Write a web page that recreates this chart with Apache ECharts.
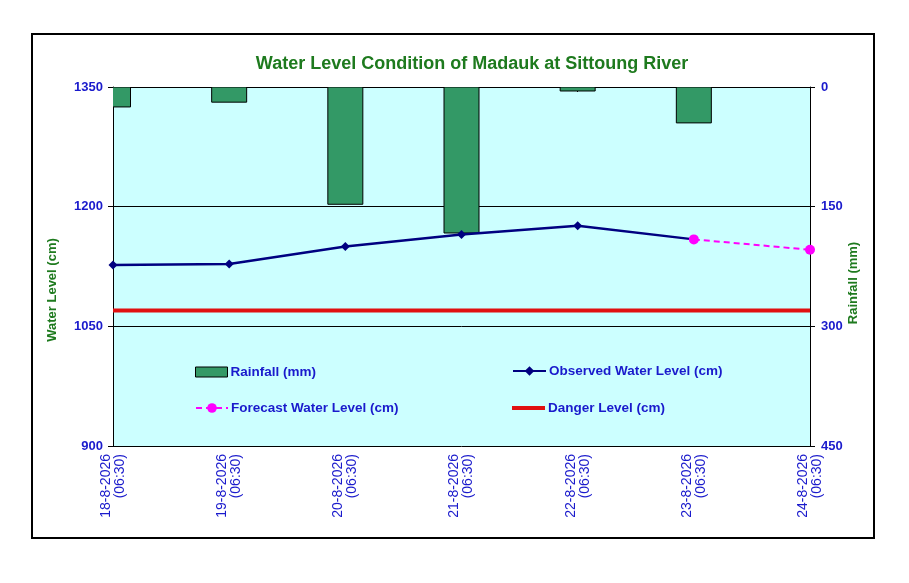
<!DOCTYPE html>
<html>
<head>
<meta charset="utf-8">
<script src="https://cdn.jsdelivr.net/npm/echarts@6/dist/echarts.min.js"></script>
<style>
  html, body { margin: 0; padding: 0; background: #fff; }
  #main { width: 909px; height: 583px; }
</style>
</head>
<body>
<div id="main"></div>
<script>
// chart data
var dates = ['18-8-2026\n(06:30)', '19-8-2026\n(06:30)', '20-8-2026\n(06:30)', '21-8-2026\n(06:30)',
             '22-8-2026\n(06:30)', '23-8-2026\n(06:30)', '24-8-2026\n(06:30)'];
var rainfall = [25, 19, 147, 183, 5, 45, 0];
var observed = [1127, 1128, 1150, 1165, 1176, 1159, '-'];
var forecast = ['-', '-', '-', '-', '-', 1159, 1146];
var dangerLevel = 1070;
var danger = dates.map(function () { return dangerLevel; });
var levelTicks = [900, 1050, 1200, 1350];
var rainTicks = [0, 150, 300, 450];

var blue = '#1a1acc';
var green = '#1e7a1e';
var font = 'Liberation Sans, Arial, sans-serif';

function legendBox(name, left, top, w, h, extra) {
    var item = Object.assign({ name: name }, extra || {});
    return {
        left: left, top: top, itemWidth: w, itemHeight: h, padding: 0,
        textStyle: { color: blue, fontSize: 13.5, fontWeight: 'bold', fontFamily: font, padding: [0, 0, 0, -2] },
        data: [item]
    };
}

var myChart = echarts.init(document.getElementById('main'));
myChart.setOption({
    backgroundColor: '#fff',
    animation: false,
    title: {
        text: 'Water Level Condition of Madauk at Sittoung River',
        left: 467, top: 50, textAlign: 'center',
        textStyle: { color: green, fontSize: 18, fontWeight: 'bold', fontFamily: font }
    },
    graphic: [
        { type: 'rect', shape: { x: 32, y: 34, width: 842, height: 504 },
          style: { fill: 'none', stroke: '#000', lineWidth: 2 } },
        { type: 'text', x: 52, y: 290, rotation: Math.PI / 2, originX: 0, originY: 0,
          style: { text: 'Water Level (cm)', fill: green, font: 'bold 13px ' + font,
                   textAlign: 'center', textVerticalAlign: 'middle' } },
        { type: 'text', x: 853, y: 283, rotation: Math.PI / 2, originX: 0, originY: 0,
          style: { text: 'Rainfall (mm)', fill: green, font: 'bold 13px ' + font,
                   textAlign: 'center', textVerticalAlign: 'middle' } }
    ],
    grid: { left: 113, right: 99, top: 87, bottom: 137, show: true,
            backgroundColor: '#ccffff', borderWidth: 0 },
    legend: [
        legendBox('Rainfall (mm)', 195, 365, 32, 10,
                  { icon: 'rect', itemStyle: { color: '#339966', borderColor: '#000', borderWidth: 1 } }),
        legendBox('Observed Water Level (cm)', 512, 364, 33, 12),
        legendBox('Forecast Water Level (cm)', 195, 401, 32, 12),
        legendBox('Danger Level (cm)', 512, 401, 33, 4,
                  { icon: 'rect', itemStyle: { color: '#e01010', borderWidth: 0 } })
    ],
    xAxis: {
        type: 'category', data: dates, boundaryGap: false,
        axisLine: { lineStyle: { color: '#000', width: 1 } },
        axisTick: { show: true, inside: false, length: 5, lineStyle: { color: '#000' } },
        axisLabel: { rotate: 90, color: blue, fontSize: 14, fontFamily: font,
                     lineHeight: 14, margin: 8, interval: 0 },
        splitLine: { show: false }
    },
    yAxis: [
        { type: 'value', min: levelTicks[0], max: levelTicks[levelTicks.length - 1], interval: 150,
          axisLine: { show: true, lineStyle: { color: '#000' } },
          axisTick: { show: true, length: 5, lineStyle: { color: '#000' } },
          axisLabel: { color: blue, fontSize: 13, fontWeight: 'bold', fontFamily: font, margin: 10,
                       formatter: function (v) { return String(v); } },
          splitLine: { show: true, lineStyle: { color: '#000', width: 1 } } },
        { type: 'value', min: rainTicks[0], max: rainTicks[rainTicks.length - 1], interval: 150, inverse: true,
          axisLine: { show: true, lineStyle: { color: '#000' } },
          axisTick: { show: true, length: 5, lineStyle: { color: '#000' } },
          axisLabel: { color: blue, fontSize: 13, fontWeight: 'bold', fontFamily: font, margin: 11,
                       formatter: function (v) { return String(v); } },
          splitLine: { show: false } }
    ],
    series: [
        { name: 'Rainfall (mm)', type: 'custom', xAxisIndex: 0, yAxisIndex: 1, clip: true,
          data: rainfall.map(function (v, i) { return [i, v]; }),
          encode: { x: 0, y: 1 },
          itemStyle: { color: '#339966', borderColor: '#000', borderWidth: 1 },
          renderItem: function (params, api) {
              var v = api.value(1);
              if (!v) return null;
              var top = api.coord([api.value(0), 0]);
              var bot = api.coord([api.value(0), v]);
              var w = 35;
              return {
                  type: 'rect',
                  shape: { x: top[0] - w / 2, y: top[1], width: w, height: bot[1] - top[1] },
                  style: { fill: '#339966', stroke: '#000', lineWidth: 1 }
              };
          } },
        { name: 'Danger Level (cm)', type: 'line', data: danger, symbol: 'none',
          lineStyle: { color: '#e01010', width: 4 }, itemStyle: { color: '#e01010' } },
        { name: 'Observed Water Level (cm)', type: 'line', data: observed, symbol: 'diamond',
          symbolSize: 9, lineStyle: { color: '#000080', width: 2.5 }, itemStyle: { color: '#000080' } },
        { name: 'Forecast Water Level (cm)', type: 'line', data: forecast, symbol: 'circle',
          symbolSize: 10, lineStyle: { color: '#ff00ff', width: 2, type: [6, 4] },
          itemStyle: { color: '#ff00ff' } }
    ]
});
</script>
</body>
</html>
